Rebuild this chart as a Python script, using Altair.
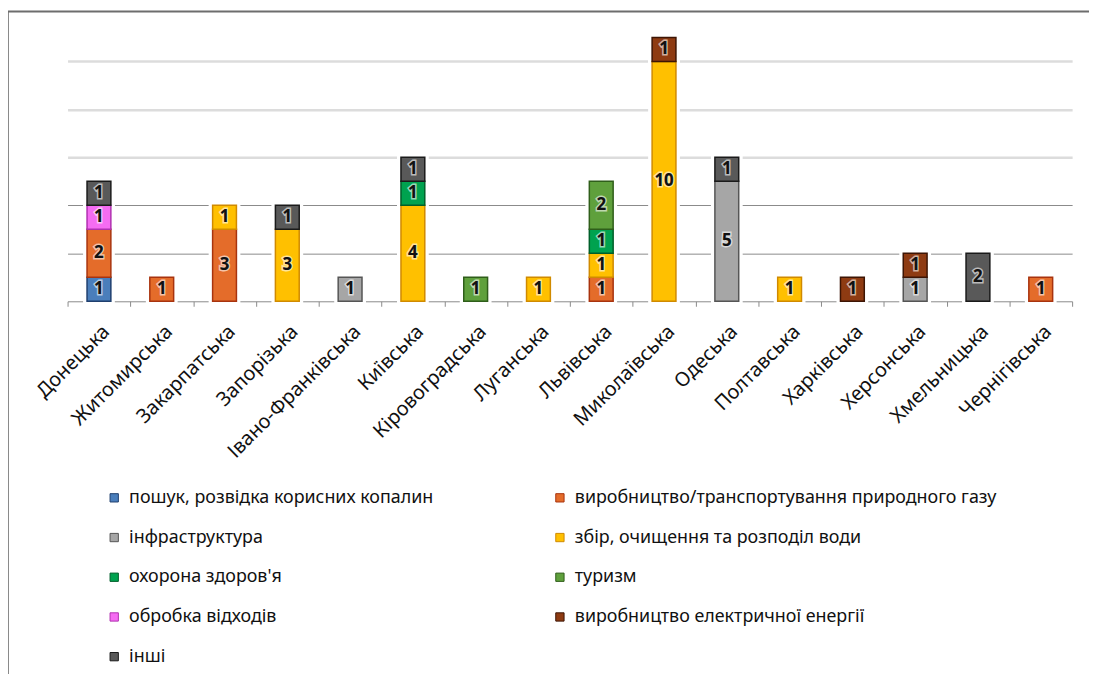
import altair as alt
import pandas as pd

regions = ["Донецька", "Житомирська", "Закарпатська", "Запорізька", "Івано-Франківська",
           "Київська", "Кіровоградська", "Луганська", "Львівська", "Миколаївська",
           "Одеська", "Полтавська", "Харківська", "Херсонська", "Хмельницька", "Чернігівська"]

categories = ["пошук, розвідка корисних копалин",
              "виробництво/транспортування природного газу",
              "інфраструктура",
              "збір, очищення та розподіл води",
              "охорона здоров'я",
              "туризм",
              "обробка відходів",
              "виробництво електричної енергії",
              "інші"]

#            Дон Жит Зак Зап ІФ  Киї Кір Луг Льв Мик Оде Пол Хар Хер Хме Чер
poshuk    = [1,  0,  0,  0,  0,  0,  0,  0,  0,  0,  0,  0,  0,  0,  0,  0]
gaz       = [2,  1,  3,  0,  0,  0,  0,  0,  1,  0,  0,  0,  0,  0,  0,  1]
infra     = [0,  0,  0,  0,  1,  0,  0,  0,  0,  0,  5,  0,  0,  1,  0,  0]
voda      = [0,  0,  1,  3,  0,  4,  0,  1,  1,  10, 0,  1,  0,  0,  0,  0]
zdorov    = [0,  0,  0,  0,  0,  1,  0,  0,  1,  0,  0,  0,  0,  0,  0,  0]
turyzm    = [0,  0,  0,  0,  0,  0,  1,  0,  2,  0,  0,  0,  0,  0,  0,  0]
vidkhody  = [1,  0,  0,  0,  0,  0,  0,  0,  0,  0,  0,  0,  0,  0,  0,  0]
elektro   = [0,  0,  0,  0,  0,  0,  0,  0,  0,  1,  0,  0,  1,  1,  0,  0]
inshi     = [1,  0,  0,  1,  0,  1,  0,  0,  0,  0,  1,  0,  0,  0,  2,  0]

series = [poshuk, gaz, infra, voda, zdorov, turyzm, vidkhody, elektro, inshi]

fill_colors = ["#4a7ebb", "#e46c2a", "#a6a6a6", "#ffc000", "#00a24f",
               "#5fa03c", "#f56cf2", "#8e3b12", "#595959"]
stroke_colors = ["#1f3f6e", "#a8330e", "#555555", "#d08a00", "#005f2a",
                 "#2f5e1a", "#b030b0", "#3d1504", "#1a1a1a"]

rows = []
for ci, (cat, vals) in enumerate(zip(categories, series)):
    for region, v in zip(regions, vals):
        if v > 0:
            rows.append({"region": region, "category": cat, "order": ci, "value": v})
df = pd.DataFrame(rows)

FONT = "Noto Sans"

base = alt.Chart(df).transform_stack(
    stack="value", groupby=["region"], sort=[alt.SortField("order")], as_=["y0", "y1"]
).transform_calculate(mid="(datum.y0 + datum.y1) / 2")

x_enc = alt.X("region:N", sort=regions, title=None,
              scale=alt.Scale(paddingInner=0, paddingOuter=0),
              axis=alt.Axis(labelAngle=-45, labelAlign="right", labelBaseline="top",
                            labelFontSize=20, labelFont=FONT, labelColor="#111111",
                            labelPadding=15, tickBand="extent", tickSize=5,
                            tickColor="#8a8a8a", domainColor="#8a8a8a", grid=False,
                            labelLimit=300))

y_scale = alt.Scale(domain=[0, 12], nice=False)
y_axis = alt.Axis(values=[2, 4, 6, 8, 10], labels=False, ticks=False, domain=False,
                  title=None, grid=True,
                  gridColor={"condition": {"test": "datum.value <= 4", "value": "#8a8a8a"},
                             "value": "#dcdcdc"},
                  gridWidth={"condition": {"test": "datum.value <= 4", "value": 1},
                             "value": 2.5})

halo = base.mark_bar(size=24, color="white", stroke="white", strokeWidth=8).encode(
    x=x_enc,
    y=alt.Y("y0:Q", scale=y_scale, axis=y_axis),
    y2="y1:Q",
)

bars = base.mark_bar(size=24, strokeWidth=1.5).encode(
    x=alt.X("region:N", sort=regions),
    y=alt.Y("y0:Q", scale=y_scale),
    y2="y1:Q",
    color=alt.Color("category:N", scale=alt.Scale(domain=categories, range=fill_colors),
                    sort=categories,
                    legend=alt.Legend(title=None, orient="none", legendX=38, legendY=479,
                                      columns=2, direction="horizontal",
                                      columnPadding=118, rowPadding=22,
                                      symbolType="square", symbolSize=70,
                                      symbolStrokeColor="#333333", symbolStrokeWidth=1,
                                      labelFont=FONT, labelFontSize=18,
                                      labelColor="#111111", labelLimit=600,
                                      labelOffset=6)),
    stroke=alt.Stroke("category:N", scale=alt.Scale(domain=categories, range=stroke_colors),
                      legend=None),
    order=alt.Order("order:Q"),
)

text_halo = base.mark_text(fontSize=17, font=FONT, fontWeight="bold", stroke="white",
                           strokeWidth=3, strokeOpacity=0.6, fill="black").encode(
    x=alt.X("region:N", sort=regions),
    y=alt.Y("mid:Q", scale=y_scale),
    text="value:Q",
)
text = base.mark_text(fontSize=17, font=FONT, fontWeight="bold", fill="#111111").encode(
    x=alt.X("region:N", sort=regions),
    y=alt.Y("mid:Q", scale=y_scale),
    text="value:Q",
)

frame_data = pd.DataFrame({"f": [0]})
frame_left = alt.Chart(frame_data).mark_rule(stroke="#8a8a8a", strokeWidth=2).encode(
    x=alt.value(-60), y=alt.value(-2), y2=alt.value(900))
frame_top = alt.Chart(frame_data).mark_rule(stroke="#6d6d6d", strokeWidth=2).encode(
    x=alt.value(-60), x2=alt.value(1029), y=alt.value(-2))

chart = alt.layer(frame_left, frame_top, halo, bars, text_halo, text).properties(
    width=1012, height=290,
    background="white",
    autosize=alt.AutoSizeParams(type="none"),
    padding={"left": 60, "top": 3, "right": 17, "bottom": 373},
).configure_view(strokeWidth=0, stroke="transparent")

chart.save("out.html", embed_options={"renderer": "svg", "actions": False})
